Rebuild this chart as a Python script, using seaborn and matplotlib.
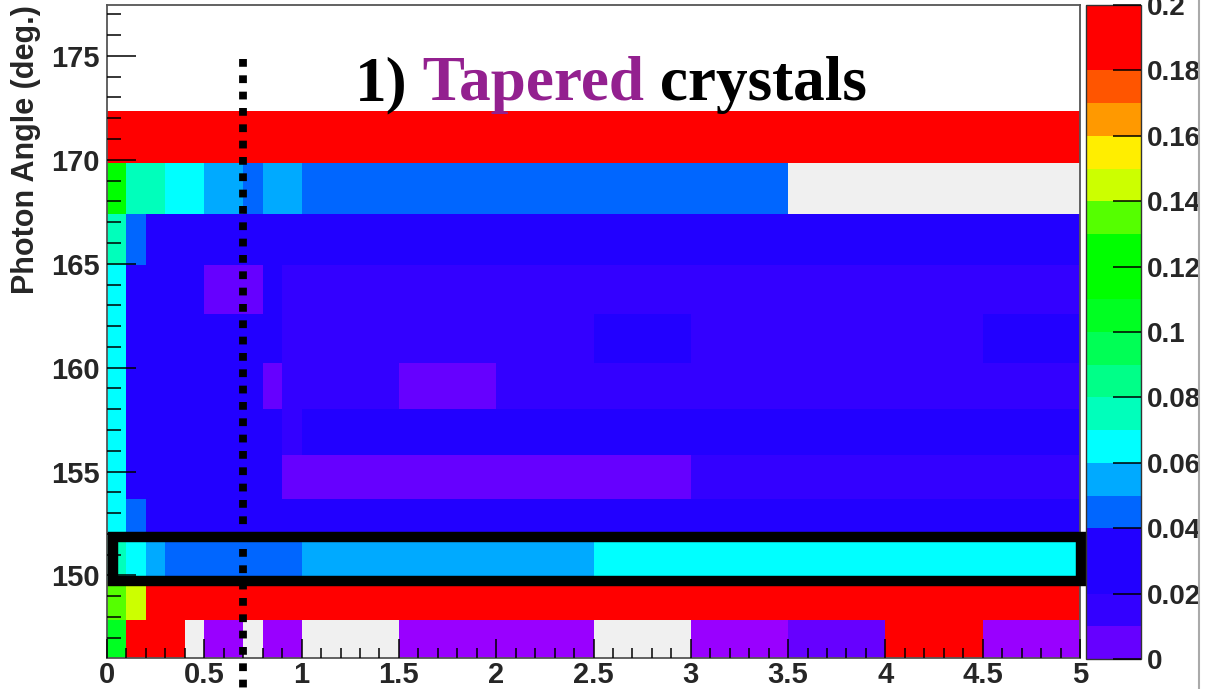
import numpy as np
import pandas as pd
import matplotlib
matplotlib.use("Agg")
import matplotlib.pyplot as plt
from matplotlib.colors import ListedColormap, BoundaryNorm
from matplotlib.cm import ScalarMappable
from matplotlib.patches import Rectangle
from matplotlib.lines import Line2D
from matplotlib.ticker import MultipleLocator, FuncFormatter
import seaborn as sns

# ---------------- data ----------------
x_edges = [0.0, 0.1, 0.2, 0.3, 0.4, 0.5, 0.6, 0.7, 0.8, 0.9, 1.0,
           1.5, 2.0, 2.5, 3.0, 3.5, 4.0, 4.5, 5.0]
angle_edges = [146.03, 147.84, 149.72, 151.87, 153.70, 155.82, 158.03,
               160.24, 162.60, 164.94, 167.38, 169.87, 172.36]

GRAY = -0.015   # cells shown light grey
PURP = -0.005   # cells shown purple (below scale)

row_146 = [0.105, 0.195, 0.195, 0.195, GRAY, PURP, PURP, GRAY, PURP, PURP,
           GRAY, PURP, PURP, GRAY, PURP, 0.005, 0.195, PURP]
row_148 = [0.135, 0.145, 0.195, 0.195, 0.195, 0.195, 0.195, 0.195, 0.195, 0.195,
           0.195, 0.195, 0.195, 0.195, 0.195, 0.195, 0.195, 0.195]
row_150 = [0.075, 0.065, 0.055, 0.045, 0.045, 0.045, 0.045, 0.045, 0.045, 0.045,
           0.055, 0.055, 0.055, 0.065, 0.065, 0.065, 0.065, 0.065]
row_152 = [0.065, 0.045, 0.03, 0.03, 0.03, 0.03, 0.03, 0.03, 0.03, 0.03,
           0.03, 0.03, 0.03, 0.03, 0.03, 0.03, 0.03, 0.03]
row_154 = [0.065, 0.03, 0.03, 0.03, 0.03, 0.03, 0.03, 0.03, 0.03, 0.005,
           0.005, 0.005, 0.005, 0.005, 0.015, 0.015, 0.015, 0.015]
row_156 = [0.065, 0.03, 0.03, 0.03, 0.03, 0.03, 0.03, 0.03, 0.03, 0.015,
           0.03, 0.03, 0.03, 0.03, 0.03, 0.03, 0.03, 0.03]
row_158 = [0.065, 0.03, 0.03, 0.03, 0.03, 0.03, 0.03, 0.03, 0.005, 0.015,
           0.015, 0.005, 0.015, 0.015, 0.015, 0.015, 0.015, 0.015]
row_160 = [0.065, 0.03, 0.03, 0.03, 0.03, 0.03, 0.03, 0.03, 0.03, 0.015,
           0.015, 0.015, 0.015, 0.03, 0.015, 0.015, 0.015, 0.03]
row_163 = [0.065, 0.03, 0.03, 0.03, 0.03, 0.005, 0.005, 0.005, 0.03, 0.015,
           0.015, 0.015, 0.015, 0.015, 0.015, 0.015, 0.015, 0.015]
row_165 = [0.075, 0.045, 0.03, 0.03, 0.03, 0.03, 0.03, 0.03, 0.03, 0.03,
           0.03, 0.03, 0.03, 0.03, 0.03, 0.03, 0.03, 0.03]
row_167 = [0.12, 0.075, 0.075, 0.065, 0.065, 0.055, 0.055, 0.045, 0.055, 0.055,
           0.045, 0.045, 0.045, 0.045, 0.045, GRAY, GRAY, GRAY]
row_170 = [0.195, 0.195, 0.195, 0.195, 0.195, 0.195, 0.195, 0.195, 0.195, 0.195,
           0.195, 0.195, 0.195, 0.195, 0.195, 0.195, 0.195, 0.195]
rows = [row_146, row_148, row_150, row_152, row_154, row_156,
        row_158, row_160, row_163, row_165, row_167, row_170]

level_colors = ["#6600FF", "#3300FF", "#2200FF", "#2200FF", "#0066FF",
                "#00AAFF", "#00FFFF", "#00FFBB", "#00FF88", "#00FF55",
                "#00FF22", "#00FF00", "#00FF00", "#55FF00", "#CCFF00",
                "#FFEE00", "#FF9900", "#FF5500", "#FF0000", "#FF0000"]
special_colors = ["#F0F0F0", "#9900FF"]
z_low, z_min, z_max = -0.02, 0.0, 0.2
level_bounds = np.round(np.linspace(z_min, z_max, 21), 3)
cbar_ticks = np.round(np.arange(0.0, 0.2001, 0.02), 2)
x_ticks_major, x_ticks_minor = 0.5, 0.1
y_ticks_major, y_ticks_minor = 5, 1

title_parts = ["1)", " Tapered", " crystals"]
title_colors = ["black", "#93208F", "black"]
ylabel = "Photon Angle (deg.)"

# ---------------- long-form table ----------------
xe = np.array(x_edges)
ye = np.array(angle_edges)
xc = (xe[:-1] + xe[1:]) / 2
yc = (ye[:-1] + ye[1:]) / 2
recs = []
for j, row in enumerate(rows):
    for i, v in enumerate(row):
        recs.append((xc[i], yc[j], v))
df = pd.DataFrame(recs, columns=["x", "angle", "value"])

# ---------------- style ----------------
sns.set_style("white")
plt.rcParams["font.family"] = ["Liberation Sans", "DejaVu Sans"]
plt.rcParams["font.weight"] = "bold"
plt.rcParams["axes.axisbelow"] = False

W, H = 1207, 689
fig = plt.figure(figsize=(W / 100, H / 100), dpi=100)
fig.patch.set_facecolor("white")
ax = fig.add_axes([107 / W, (H - 658) / H, 973 / W, 653 / H])
cax = fig.add_axes([1086 / W, (H - 659) / H, 55 / W, 654 / H])

# 22 equal steps of 0.01 from z_low to z_max: two special bands + 20 levels
mesh_cmap = ListedColormap(special_colors + level_colors)
mesh_cmap.set_over("#FF0000")

sns.histplot(data=df, x="x", y="angle", weights="value",
             bins=[x_edges, angle_edges], thresh=None,
             cmap=mesh_cmap, vmin=z_low, vmax=z_max, ax=ax, cbar=False)
ax.set_axisbelow(False)

ax.set_xlim(0, 5)
ax.set_ylim(146.03, 177.45)
ax.set_xlabel("")
ax.set_ylabel(ylabel, loc="top", fontsize=22, fontweight="bold")
ax.yaxis.set_label_coords(-0.068, 1.0)

ax.xaxis.set_major_locator(MultipleLocator(x_ticks_major))
ax.xaxis.set_minor_locator(MultipleLocator(x_ticks_minor))
ax.yaxis.set_major_locator(MultipleLocator(y_ticks_major))
ax.yaxis.set_minor_locator(MultipleLocator(y_ticks_minor))
fmt = FuncFormatter(lambda v, p: f"{v:g}")
ax.xaxis.set_major_formatter(fmt)
ax.yaxis.set_major_formatter(fmt)
ax.tick_params(axis="y", which="major", direction="in", length=21, width=1.1,
               left=True, right=False, pad=5.5, labelsize=21, color="black")
ax.tick_params(axis="y", which="minor", direction="in", length=10, width=1.1,
               left=True, right=False, color="black")
ax.tick_params(axis="x", which="major", direction="in", length=13.7, width=1.1,
               bottom=True, top=False, pad=2.4, labelsize=21, color="black")
ax.tick_params(axis="x", which="minor", direction="in", length=7.2, width=1.1,
               bottom=True, top=False, color="black")
for lab in ax.get_xticklabels() + ax.get_yticklabels():
    lab.set_fontweight("bold")
for s in ax.spines.values():
    s.set_visible(True)
    s.set_color("#555555")
    s.set_linewidth(1.3)
ax.grid(False)

# highlighted band and reference line
ax.add_patch(Rectangle((0.03, angle_edges[2]), 4.977,
                       angle_edges[3] - angle_edges[2], fill=False,
                       edgecolor="black", lw=7.5, joinstyle="miter",
                       clip_on=False, zorder=5))
ax.plot([0.7, 0.7], [174.85, 144.0], color="black", lw=5.6,
        linestyle=(0, (1.0, 1.1)), clip_on=False, zorder=6)

# colour bar
sm = ScalarMappable(norm=BoundaryNorm(level_bounds, len(level_colors)),
                    cmap=ListedColormap(level_colors))
cb = fig.colorbar(sm, cax=cax, ticks=cbar_ticks)
cax.set_axisbelow(False)
cb.ax.yaxis.set_major_formatter(fmt)
cb.minorticks_off()
cax.tick_params(direction="in", length=20, width=1.1, right=True, left=False,
                pad=4, labelsize=20, color="black")
for lab in cax.get_yticklabels():
    lab.set_fontweight("bold")
cb.outline.set_edgecolor("#333333")
cb.outline.set_linewidth(1.0)

# title made of coloured pieces
fig.canvas.draw()
renderer = fig.canvas.get_renderer()
x0 = 355 / W
yb = 1 - 100 / H
for txt, col in zip(title_parts, title_colors):
    t = fig.text(x0, yb, txt, color=col, fontsize=45.5, fontweight="bold",
                 family="Liberation Serif", ha="left", va="baseline")
    bb = t.get_window_extent(renderer)
    x0 = bb.x1 / fig.bbox.width

# right border of the original canvas
fig.add_artist(Rectangle((1199 / W, 0), 8 / W, 1, transform=fig.transFigure,
                         facecolor="white", edgecolor="none", zorder=20))
fig.add_artist(Line2D([1198.5 / W, 1198.5 / W], [0, 1],
                      transform=fig.transFigure, color="#AAAAAA", lw=1.5,
                      zorder=21))

fig.savefig("out.png", dpi=100)
